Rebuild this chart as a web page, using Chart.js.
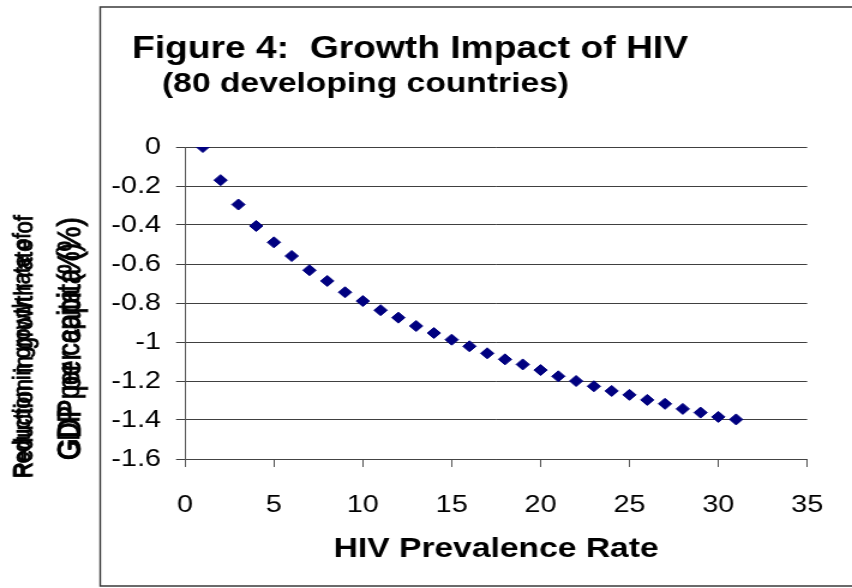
<!DOCTYPE html>
<html>
<head>
<meta charset="utf-8">
<script src="https://cdn.jsdelivr.net/npm/chart.js@4/dist/chart.umd.min.js"></script>
<style>
  html, body { margin: 0; padding: 0; background: #fff; overflow: hidden; }
  #wrap { width: 710px; height: 588px; transform: scaleX(1.2); transform-origin: 0 0; }
  #chart { display: block; }
</style>
</head>
<body>
<div id="wrap"><canvas id="chart" width="710" height="588"></canvas></div>
<script>
// HIV prevalence rate (%) and the matching reduction in per-capita GDP growth (%)
const prevalence = [1, 2, 3, 4, 5, 6, 7, 8, 9, 10, 11, 12, 13, 14, 15, 16,
                    17, 18, 19, 20, 21, 22, 23, 24, 25, 26, 27, 28, 29, 30, 31];
const growthReduction = [0, -0.17, -0.295, -0.405, -0.489, -0.559, -0.632, -0.687,
                         -0.745, -0.79, -0.837, -0.875, -0.918, -0.954, -0.988, -1.022,
                         -1.058, -1.089, -1.115, -1.144, -1.176, -1.2, -1.227, -1.251,
                         -1.271, -1.297, -1.317, -1.343, -1.362, -1.384, -1.397];

// Axis ticks
const xTicks = [0, 5, 10, 15, 20, 25, 30, 35];
const yTicks = [0, -0.2, -0.4, -0.6, -0.8, -1, -1.2, -1.4, -1.6];
const yTickLabels = ['0', '-0.2', '-0.4', '-0.6', '-0.8', '-1', '-1.2', '-1.4', '-1.6'];

// Text
const titleText = 'Figure 4:  Growth Impact of HIV';
const subtitleText = '(80 developing countries)';
const xTitle = 'HIV Prevalence Rate';
const yTitleLines = ['Reduction in growth rate of', 'GDP per capita (%)'];

const FONT = '"Liberation Sans", Arial, Helvetica, sans-serif';

// Frame, headings and the vertical axis caption
const decorations = {
  id: 'decorations',
  beforeDraw(chart) {
    const ctx = chart.ctx;
    ctx.save();
    ctx.fillStyle = '#ffffff';
    ctx.fillRect(0, 0, chart.width, chart.height);
    ctx.strokeStyle = '#3a3a3a';
    ctx.lineWidth = 1.4;
    ctx.beginPath();
    ctx.moveTo(chart.width, 7);
    ctx.lineTo(83.5, 7);
    ctx.lineTo(83.5, 586);
    ctx.lineTo(chart.width, 586);
    ctx.stroke();
    ctx.restore();
  },
  afterDraw(chart) {
    const ctx = chart.ctx;
    ctx.save();
    ctx.fillStyle = '#000';
    ctx.textBaseline = 'alphabetic';
    ctx.textAlign = 'left';
    ctx.font = `bold 31px ${FONT}`;
    ctx.fillText(titleText, 110, 58);
    ctx.font = `bold 28px ${FONT}`;
    ctx.fillText(subtitleText, 135, 92);

    const vertical = (text, x, yStart, size) => {
      ctx.save();
      ctx.translate(x, yStart);
      ctx.rotate(-Math.PI / 2);
      ctx.font = `${size}px ${FONT}`;
      ctx.textAlign = 'left';
      ctx.textBaseline = 'middle';
      ctx.strokeStyle = '#000';
      ctx.lineWidth = 0.8;
      ctx.fillText(text, 0, 0);
      ctx.strokeText(text, 0, 0);
      ctx.restore();
    };
    // caption lines are printed twice at slightly different sizes
    vertical(yTitleLines[0], 19.5, 478, 20.5);
    vertical(yTitleLines[0], 20.5, 478, 22);
    vertical(yTitleLines[1], 59, 460, 25);
    vertical(yTitleLines[1], 59.5, 460, 28);
    ctx.restore();
  }
};

new Chart(document.getElementById('chart'), {
  type: 'scatter',
  data: {
    datasets: [{
      data: prevalence.map((x, i) => ({ x, y: growthReduction[i] })),
      pointStyle: 'rectRot',
      pointRadius: 5.5,
      pointHoverRadius: 5.5,
      backgroundColor: '#000080',
      borderColor: '#000080',
      borderWidth: 1
    }]
  },
  options: {
    responsive: false,
    animation: false,
    events: [],
    layout: { padding: { top: 147, right: 33.3, bottom: 0, left: 0 } },
    plugins: {
      legend: { display: false },
      tooltip: { enabled: false },
      title: { display: false }
    },
    scales: {
      x: {
        type: 'linear',
        min: 0,
        max: 35,
        afterBuildTicks: (scale) => { scale.ticks = xTicks.map(v => ({ value: v })); },
        afterFit: (scale) => { scale.height = 129; },
        ticks: {
          color: '#000',
          font: { family: FONT, size: 24 },
          padding: 24,
          maxRotation: 0,
          autoSkip: false
        },
        grid: {
          display: true,
          drawOnChartArea: false,
          drawTicks: true,
          tickLength: 8,
          color: '#555',
          lineWidth: 1
        },
        border: { display: true, color: '#444', width: 1 },
        title: {
          display: true,
          text: xTitle,
          color: '#000',
          font: { family: FONT, size: 28, weight: 'bold' },
          padding: { top: 0, bottom: 22 }
        }
      },
      y: {
        type: 'linear',
        min: -1.6,
        max: 0,
        afterBuildTicks: (scale) => { scale.ticks = yTicks.map(v => ({ value: v })); },
        afterFit: (scale) => { scale.width = 154.2; },
        ticks: {
          color: '#000',
          font: { family: FONT, size: 24 },
          padding: 12.5,
          callback: (v) => {
            const i = yTicks.findIndex(t => Math.abs(t - v) < 1e-9);
            return i >= 0 ? yTickLabels[i] : '';
          }
        },
        grid: {
          color: '#404040',
          lineWidth: 1,
          drawTicks: true,
          tickLength: 7.5
        },
        border: { display: true, color: '#555', width: 1 }
      }
    }
  },
  plugins: [decorations]
});
</script>
</body>
</html>
